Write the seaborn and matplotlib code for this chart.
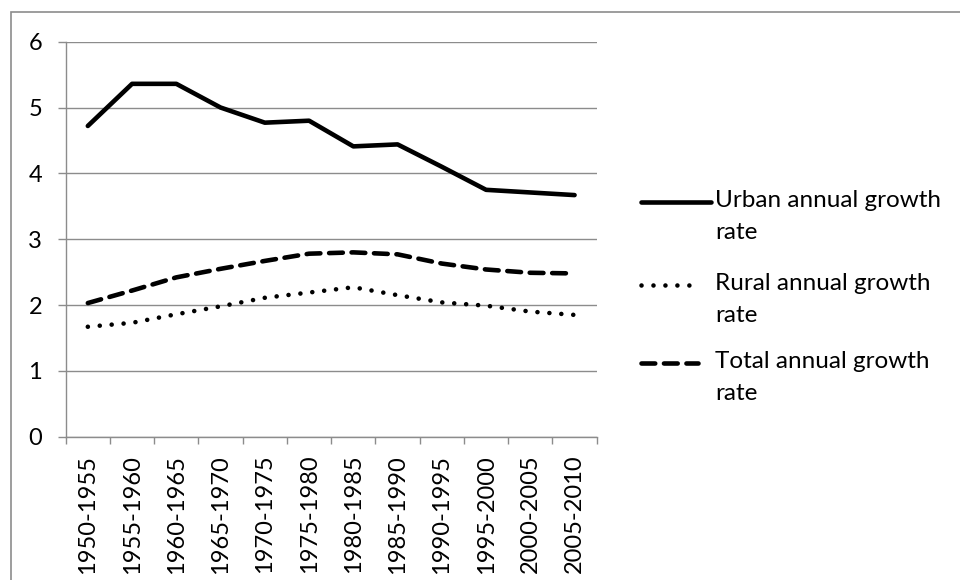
import matplotlib
matplotlib.use("Agg")
import matplotlib.pyplot as plt
from matplotlib.lines import Line2D
from matplotlib.patches import Rectangle
import seaborn as sns
import pandas as pd
import numpy as np

periods = ["1950-1955", "1955-1960", "1960-1965", "1965-1970", "1970-1975", "1975-1980",
           "1980-1985", "1985-1990", "1990-1995", "1995-2000", "2000-2005", "2005-2010"]
urban = [4.72, 5.36, 5.36, 5.00, 4.77, 4.80, 4.41, 4.44, 4.10, 3.75, 3.71, 3.67]
rural = [1.67, 1.73, 1.86, 1.98, 2.11, 2.19, 2.27, 2.15, 2.04, 1.99, 1.90, 1.85]
total = [2.03, 2.22, 2.42, 2.55, 2.67, 2.78, 2.80, 2.77, 2.63, 2.54, 2.49, 2.48]
series_names = ["Urban annual growth\nrate", "Rural annual growth\nrate", "Total annual growth\nrate"]
yticks = [0, 1, 2, 3, 4, 5, 6]

sns.set_theme(style="white")
plt.rcParams["font.family"] = ["Lato", "DejaVu Sans"]

W, H = 960, 580
fig = plt.figure(figsize=(9.6, 5.8), dpi=100)
ax = fig.add_axes([65.7 / W, 1 - 436.7 / H, (596.7 - 65.7) / W, (436.7 - 41.7) / H])

df = pd.DataFrame({"period": periods * 3,
                   "x": list(range(len(periods))) * 3,
                   "value": urban + rural + total,
                   "series": sum([[s] * len(periods) for s in series_names], [])})

lw = 3.3
dot_dash = (0.01, 2.6)
dash_dash = (3.0, 1.9)
styles = {
    series_names[0]: dict(ls="-"),
    series_names[1]: dict(dashes=dot_dash),
    series_names[2]: dict(dashes=dash_dash),
}
for name in series_names:
    sub = df[df["series"] == name]
    sns.lineplot(data=sub, x="x", y="value", ax=ax, color="black", lw=lw,
                 solid_capstyle="round", solid_joinstyle="round",
                 dash_capstyle="round", legend=False)
    line = ax.get_lines()[-1]
    st = styles[name]
    if "dashes" in st:
        line.set_dashes(st["dashes"])
    line.set_dash_capstyle("round")

grid_c = "#8c8c8c"
fs = 17
ax.set_xlim(-0.5, len(periods) - 0.5)
ax.set_ylim(0, 6)
ax.set_yticks(yticks)
ax.set_yticklabels([str(v) for v in yticks])
ax.set_xticks(range(len(periods)))
ax.set_xticklabels(periods, rotation=90, va="top", ha="center")
ax.set_xticks(np.arange(-0.5, len(periods), 1.0), minor=True)
ax.tick_params(axis="x", which="major", length=0, pad=13, labelsize=fs, colors="black")
ax.tick_params(axis="x", which="minor", length=5, width=1, color=grid_c, direction="out", bottom=True)
ax.tick_params(axis="y", which="major", length=6, width=1, color=grid_c, pad=11, labelsize=fs,
               labelcolor="black", left=True)
ax.yaxis.grid(True, color=grid_c, lw=1)
ax.set_axisbelow(True)
for s in ["top", "right"]:
    ax.spines[s].set_visible(False)
for s in ["left", "bottom"]:
    ax.spines[s].set_color(grid_c)
    ax.spines[s].set_linewidth(1)
ax.set_xlabel("")
ax.set_ylabel("")

# Chart area border (cropped at right/bottom)
fig.add_artist(Rectangle((10.5 / W, -0.1), 1.2, 1 - 12 / H + 0.1, transform=fig.transFigure,
                         fill=False, edgecolor="#8c8c8c", lw=1.2))

# Legend drawn manually to align handle with first text line
leg_y = [202, 285, 363]
leg_end = [711, 697, 698]
leg_styles = [dict(ls="-"), dict(dashes=dot_dash), dict(dashes=dash_dash)]
for name, yy, xe, st in zip(series_names, leg_y, leg_end, leg_styles):
    yf = 1 - yy / H
    ln = Line2D([641 / W, xe / W], [yf, yf], transform=fig.transFigure, color="black", lw=lw,
                solid_capstyle="round", dash_capstyle="round")
    if "dashes" in st:
        ln.set_dashes(st["dashes"])
        ln.set_dash_capstyle("round")
    fig.add_artist(ln)
    fig.text(715 / W, yf + 12 / H, name, ha="left", va="top", fontsize=17.5, color="black",
             linespacing=1.62)

fig.savefig("out.png", dpi=100, facecolor="white")
